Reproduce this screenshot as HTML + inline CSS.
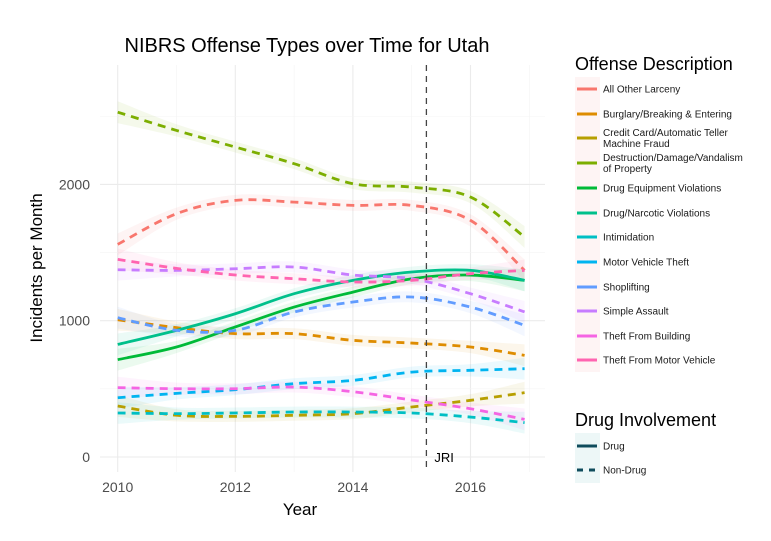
<!DOCTYPE html>
<html><head><meta charset="utf-8"><style>
body{margin:0;background:#fff;font-family:"Liberation Sans",Arial,sans-serif}
svg text{font-family:"Liberation Sans",Arial,sans-serif}
</style></head><body>
<svg id="c" width="771" height="536" viewBox="0 0 771 536">
<text x="307" y="52" font-size="20" text-anchor="middle" fill="#000">NIBRS Offense Types over Time for Utah</text>
<g id="grid"></g>
<g id="bands"></g>
<g id="lines"></g>
<g id="axes"></g>
<text x="300" y="515" font-size="17" text-anchor="middle">Year</text>
<text transform="translate(42,268) rotate(-90)" font-size="17" text-anchor="middle">Incidents per Month</text>
<g id="legend"></g>
</svg>
<script>
const years=[2010,2011,2012,2013,2014,2015,2016,2016.92];
const seriesNames=["All Other Larceny","Burglary/Breaking & Entering","Credit Card/Automatic Teller Machine Fraud","Destruction/Damage/Vandalism of Property","Drug Equipment Violations","Drug/Narcotic Violations","Intimidation","Motor Vehicle Theft","Shoplifting","Simple Assault","Theft From Building","Theft From Motor Vehicle"];
const colors=["#F8766D","#DE8C00","#B79F00","#7CAE00","#00BA38","#00C08B","#00BFC4","#00B4F0","#619CFF","#C77CFF","#F564E3","#FF64B0"];
const drugFlag=[0,0,0,0,1,1,0,0,0,0,0,0];
const vLarceny=[1560,1785,1883,1870,1846,1846,1736,1369];
const vBurglary=[1007,949,905,905,856,836,807,746];
const vCredit=[374,306,298,306,318,367,416,472];
const vVandal=[2530,2396,2274,2152,2005,1980,1907,1614];
const vDrugEq=[714,807,954,1100,1210,1308,1335,1296];
const vNarc=[826,929,1051,1198,1296,1357,1369,1296];
const vIntim=[323,318,323,330,330,323,293,252];
const vMVT=[435,467,494,538,562,623,636,648];
const vShop=[1022,929,929,1064,1137,1174,1100,966];
const vAssault=[1374,1369,1381,1394,1335,1308,1198,1064];
const vBuilding=[509,501,501,513,479,418,354,276];
const vFromMV=[1450,1384,1335,1308,1284,1296,1345,1369];
const seHalf=[80,45,40,40,40,40,45,80];
const yTicks=[0,1000,2000];
const xTicks=[2010,2012,2014,2016];
const jriYear=2015.25;
const allValues=[vLarceny,vBurglary,vCredit,vVandal,vDrugEq,vNarc,vIntim,vMVT,vShop,vAssault,vBuilding,vFromMV];

const X0=100,X1=545,Y0=65,Y1=472;
const xs=y=>117.7+(y-2010)*58.8;
const ys=v=>457-v*0.1363;
const NS="http://www.w3.org/2000/svg";
function mk(t,a,p){const e=document.createElementNS(NS,t);for(const k in a)e.setAttribute(k,a[k]);p.appendChild(e);return e;}
function smooth(pts){let d="M"+pts[0][0]+","+pts[0][1];for(let i=0;i<pts.length-1;i++){const p0=pts[i-1]||pts[i],p1=pts[i],p2=pts[i+1],p3=pts[i+2]||p2;d+=" C"+(p1[0]+(p2[0]-p0[0])/6)+","+(p1[1]+(p2[1]-p0[1])/6)+" "+(p2[0]-(p3[0]-p1[0])/6)+","+(p2[1]-(p3[1]-p1[1])/6)+" "+p2[0]+","+p2[1];}return d;}
const grid=document.getElementById('grid');
for(let y=2010;y<=2017;y++){const l=mk('line',{x1:xs(y),x2:xs(y),y1:Y0,y2:Y1,stroke:y%2==0?'#ebebeb':'#f4f4f4','stroke-width':y%2==0?1.1:0.6},grid);

}
for(let v=0;v<=2500;v+=500){const l=mk('line',{x1:X0,x2:X1,y1:ys(v),y2:ys(v),stroke:v%1000==0?'#ebebeb':'#f4f4f4','stroke-width':v%1000==0?1.1:0.6},grid);

}
const bands=document.getElementById('bands'),lines=document.getElementById('lines');
allValues.forEach((vals,i)=>{
 const up=vals.map((v,j)=>[xs(years[j]),ys(v+seHalf[j])]);
 const dn=vals.map((v,j)=>[xs(years[j]),ys(v-seHalf[j])]).reverse();
 const b=mk('path',{d:smooth(up)+" L"+smooth(dn).slice(1)+" Z",fill:colors[i],opacity:0.08},bands);
 
 
});
allValues.forEach((vals,i)=>{
 const pts=vals.map((v,j)=>[xs(years[j]),ys(v)]);
 const a={d:smooth(pts),fill:'none',stroke:colors[i],'stroke-width':2.8};
 if(!drugFlag[i])a['stroke-dasharray']='8,6';
 const l=mk('path',a,lines);
 
 
});
const axes=document.getElementById('axes');
const jx=xs(jriYear);
const jl=mk('line',{x1:jx,x2:jx,y1:Y0,y2:Y1,stroke:'#444','stroke-width':1.3,'stroke-dasharray':'6,5'},axes);


const jt=mk('text',{x:jx+8,y:462,'font-size':13,fill:'#000'},axes);jt.textContent='JRI';


yTicks.forEach(v=>{const t=mk('text',{x:90,y:ys(v)+5,'font-size':14,fill:'#4d4d4d','text-anchor':'end'},axes);t.textContent=v;

});
xTicks.forEach(y=>{const t=mk('text',{x:xs(y),y:492,'font-size':14,fill:'#4d4d4d','text-anchor':'middle'},axes);t.textContent=y;

});
const lg=document.getElementById('legend');
let t=mk('text',{x:575,y:70,'font-size':18},lg);t.textContent='Offense Description';


mk('rect',{x:575,y:77,width:25,height:295,fill:'#fdecec',opacity:0.6},lg);
const ly=[89,114,138,163,188,213,237,262,287,311,336,360];
const labs=[["All Other Larceny"],["Burglary/Breaking & Entering"],["Credit Card/Automatic Teller","Machine Fraud"],["Destruction/Damage/Vandalism","of Property"],["Drug Equipment Violations"],["Drug/Narcotic Violations"],["Intimidation"],["Motor Vehicle Theft"],["Shoplifting"],["Simple Assault"],["Theft From Building"],["Theft From Motor Vehicle"]];
seriesNames.forEach((n,i)=>{
 const g=mk('g',{},lg);
 
 
 mk('line',{x1:577,x2:597,y1:ly[i],y2:ly[i],stroke:colors[i],'stroke-width':3},g);
 labs[i].forEach((s,k)=>{const tt=mk('text',{x:603,y:ly[i]+3.5+(labs[i].length>1?(k?5.5:-5.5):0),'font-size':10,fill:'#1a1a1a'},g);tt.textContent=s;});
});
t=mk('text',{x:575,y:426,'font-size':18},lg);t.textContent='Drug Involvement';


mk('rect',{x:575,y:433,width:25,height:50,fill:'#e6f4f4',opacity:0.7},lg);
[["Drug",446,null],["Non-Drug",470,'6,6']].forEach(d=>{
 const g=mk('g',{},lg);
 
 
 const a={x1:577,x2:597,y1:d[1],y2:d[1],stroke:'#0f4c5c','stroke-width':3};if(d[2])a['stroke-dasharray']=d[2];
 mk('line',a,g);
 const tt=mk('text',{x:603,y:d[1]+3.5,'font-size':10,fill:'#1a1a1a'},g);tt.textContent=d[0];
});
</script>
</body></html>
